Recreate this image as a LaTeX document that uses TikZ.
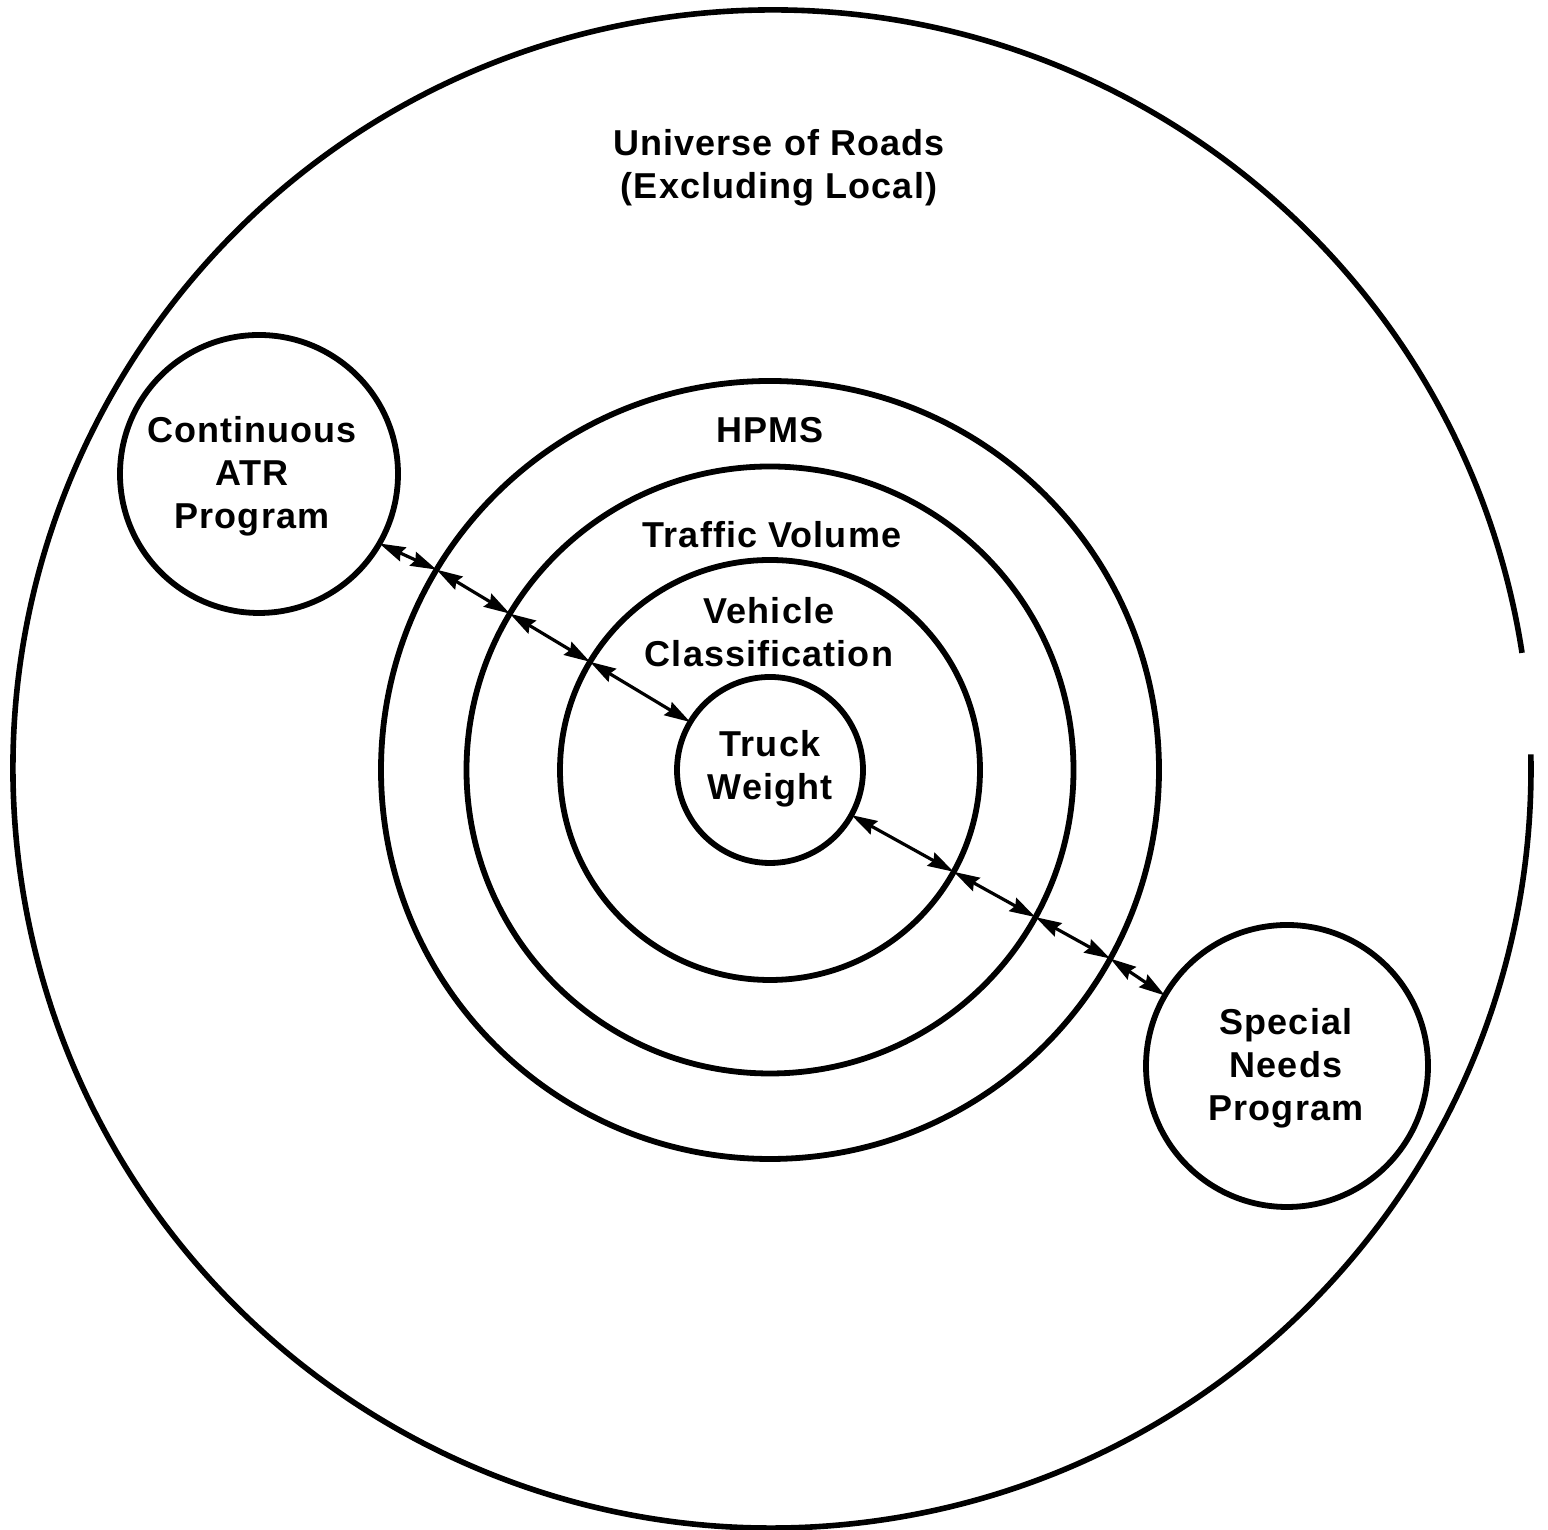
\documentclass[tikz,border=0pt]{standalone}
\usepackage{fontspec}
\setmainfont{Liberation Sans}[LetterSpace=3]
\usetikzlibrary{arrows.meta}
\begin{document}
\begin{tikzpicture}[x=0.5pt,y=0.5pt,
  ring/.style={circle,draw,line width=2.9pt,inner sep=0pt,outer sep=0pt},
  lbl/.style={align=center,font=\fontsize{18}{21.5}\selectfont\bfseries},
  link/.style={line width=1.6pt,{Stealth[length=13pt,width=7.5pt,inset=1.5pt]}-{Stealth[length=13pt,width=7.5pt,inset=1.5pt]}}]
\useasboundingbox (0,0) rectangle (1548,1530);
\coordinate (uc) at (772,761);
\draw[line width=2.8pt] ([shift={(8.8:759)}]uc) arc[start angle=8.8,end angle=361.1,radius=759];
\node[ring,minimum size=389pt] (hpms) at (770,760) {};
\node[ring,minimum size=303.5pt] (tv) at (770,760) {};
\node[ring,minimum size=210pt] (vc) at (770,760) {};
\node[ring,minimum size=93pt] (tw) at (770,760) {};
\node[ring,minimum size=139pt] (atr) at (259,1056) {};
\node[ring,minimum size=141pt] (snp) at (1287,464) {};
\node[lbl] (twl) at (770,761) {Truck\\Weight};
\node[lbl] (atrl) at (252,1054) {Continuous\\ATR\\Program};
\node[lbl] (snpl) at (1286,462) {Special\\Needs\\Program};
\node[lbl] (univ) at (779,1362) {Universe of Roads\\(Excluding Local)};
\node[lbl] (hpmsl) at (770,1100) {HPMS};
\node[lbl] (tvl) at (772,995) {Traffic Volume};
\node[lbl] (vcl) at (769,898) {Vehicle\\Classification};
\draw[link] (atr.-30.08) -- (hpms.149.92);
\draw[link] (hpms.149.92) -- (tv.149.92);
\draw[link] (tv.149.92) -- (vc.149.92);
\draw[link] (vc.149.92) -- (tw.149.92);
\draw[link] (tw.-29.8) -- (vc.-29.8);
\draw[link] (vc.-29.8) -- (tv.-29.8);
\draw[link] (tv.-29.8) -- (hpms.-29.8);
\draw[link] (hpms.-29.8) -- (snp.150.2);
\end{tikzpicture}
\end{document}
